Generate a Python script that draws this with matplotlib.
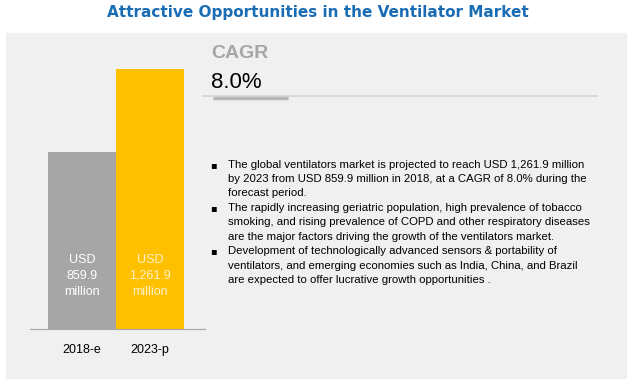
import matplotlib.pyplot as plt
from matplotlib.patches import Rectangle
from matplotlib.lines import Line2D

W, H = 634, 385

years = ["2018-e", "2023-p"]
values = [859.9, 1261.9]
bar_labels = ["USD\n859.9\nmillion", "USD\n1,261.9\nmillion"]
bar_colors = ["#a6a6a6", "#ffc000"]
label_colors = ["#ffffff", "#fff2c8"]
cagr = "8.0%"
bullets = [
    "The global ventilators market is projected to reach USD 1,261.9 million\n"
    "by 2023 from USD 859.9 million in 2018, at a CAGR of 8.0% during the\n"
    "forecast period.",
    "The rapidly increasing geriatric population, high prevalence of tobacco\n"
    "smoking, and rising prevalence of COPD and other respiratory diseases\n"
    "are the major factors driving the growth of the ventilators market.",
    "Development of technologically advanced sensors & portability of\n"
    "ventilators, and emerging economies such as India, China, and Brazil\n"
    "are expected to offer lucrative growth opportunities .",
]

sans = ["Liberation Sans", "DejaVu Sans"]


def fx(x):
    return x / W


def fy(y):
    return 1 - y / H


fig = plt.figure(figsize=(W / 100, H / 100), dpi=100)
fig.patch.set_facecolor("white")

# grey panel
fig.patches.append(Rectangle((fx(6), fy(378)), fx(620), (378 - 33) / H,
                             transform=fig.transFigure, color="#f0f0f0", zorder=0))

# title
fig.text(fx(318), fy(13), "Attractive Opportunities in the Ventilator Market",
         ha="center", va="center", fontsize=11, fontweight="bold",
         color="#1a6db5", family="DejaVu Sans")

# bars
ymax = 1300
scale = 260 / 1261.9
ax_h = ymax * scale
ax = fig.add_axes([fx(30), fy(329), fx(175), ax_h / H])
ax.set_zorder(3)
ax.patch.set_alpha(0)
ax.bar(range(len(values)), values, width=1.0, color=bar_colors)
ax.set_xlim((30 - 82) / 68, (205 - 82) / 68)
ax.set_ylim(0, ymax)
for s in ["top", "right", "left"]:
    ax.spines[s].set_visible(False)
ax.spines["bottom"].set_color("#a6a6a6")
ax.set_yticks([])
ax.set_xticks(range(len(years)))
ax.set_xticklabels(years, family=sans, fontsize=9, color="#000000")
ax.tick_params(axis="x", length=0, pad=11)
for i, lab in enumerate(bar_labels):
    ax.text(i, (329 - 276) / scale, lab, ha="center", va="center",
            color=label_colors[i], fontsize=9, family=sans, linespacing=1.4)

# CAGR block
fig.text(fx(211), fy(54), "CAGR", ha="left", va="center", fontsize=14,
         fontweight="bold", color="#a6a6a6", family=sans)
fig.text(fx(211), fy(82), cagr, ha="left", va="center", fontsize=16,
         color="#000000", family=sans)
fig.lines.append(Line2D([fx(203), fx(597)], [fy(96.5), fy(96.5)],
                        transform=fig.transFigure, color="#d4d4d4", lw=1.2))
fig.lines.append(Line2D([fx(213), fx(288)], [fy(98.5), fy(98.5)],
                        transform=fig.transFigure, color="#b8b8b8", lw=2.5,
                        solid_capstyle="butt"))

# bullet points
line_h = 14.4
y0 = 165
for k, b in enumerate(bullets):
    y = y0 + 3 * k * line_h
    fig.text(fx(213), fy(y), "\u25aa", ha="center", va="center", fontsize=7,
             color="#000000", family="DejaVu Sans")
    fig.text(fx(228), fy(y - 5), b, ha="left", va="top", fontsize=8.2,
             color="#000000", family=sans, linespacing=1.52)

fig.savefig("out.png", dpi=100)
